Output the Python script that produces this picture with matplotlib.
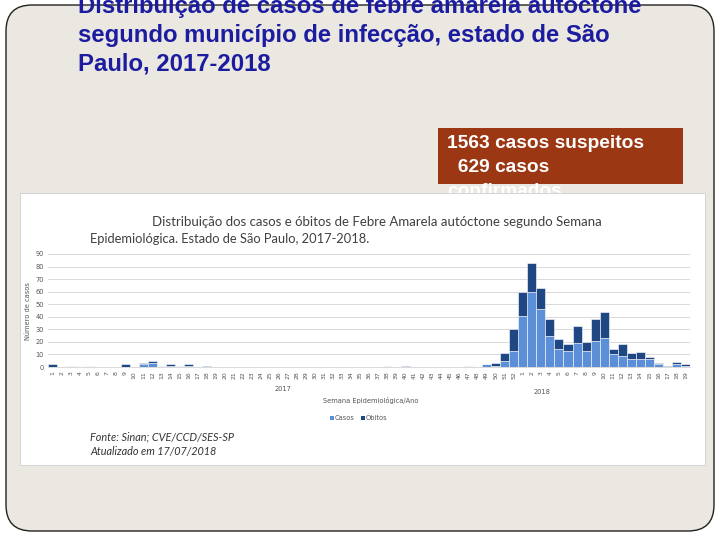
import numpy as np
import matplotlib
matplotlib.use("Agg")
import matplotlib.pyplot as plt
from matplotlib.patches import FancyBboxPatch, Rectangle

# semanas epidemiologicas 2017 (1-52) e 2018 (1-19)
semanas_2017 = list(range(1, 53))
semanas_2018 = list(range(1, 20))

casos_2017 = [0, 0, 1, 0, 1, 0, 0, 0, 0, 0, 2, 3, 1, 1, 1, 1, 0, 0, 0, 0,
              0, 0, 0, 0, 0, 0, 0, 0, 0, 0, 0, 0, 0, 0, 0, 0, 0, 1, 0, 0,
              0, 0, 0, 0, 0, 0, 1, 0, 2, 1, 5, 13]
obitos_2017 = [2, 0, 0, 0, 0, 0, 0, 0, 2, 0, 1, 2, 0, 1, 0, 1, 0, 1, 0, 0,
               0, 0, 0, 0, 0, 0, 0, 0, 0, 0, 0, 0, 0, 0, 0, 0, 0, 0, 0, 1,
               0, 0, 0, 0, 0, 0, 0, 0, 0, 2, 6, 17]
casos_2018 = [41, 60, 46, 25, 14, 13, 19, 13, 21, 23, 10, 9, 6, 6, 6, 2, 0, 2, 1]
obitos_2018 = [19, 23, 17, 13, 8, 5, 14, 7, 17, 21, 4, 9, 5, 6, 2, 1, 1, 2, 1]

rotulos = [str(s) for s in semanas_2017 + semanas_2018]
casos = np.array(casos_2017 + casos_2018)
obitos = np.array(obitos_2017 + obitos_2018)
y_ticks = list(range(0, 100, 10))

titulo_slide = ["Distribuição de casos de febre amarela autóctone",
                "segundo município de infecção, estado de São",
                "Paulo, 2017-2018"]
caixa_texto = ["1563 casos suspeitos", "  629 casos", "confirmados"]

W, H = 720, 540
fig = plt.figure(figsize=(7.2, 5.4), dpi=100)
fig.patch.set_facecolor("white")


def rect(x0, y0, x1, y1):
    # caixa em pixels (origem no topo) -> fracao da figura
    return [x0 / W, 1 - y1 / H, (x1 - x0) / W, (y1 - y0) / H]


# ---- fundo do slide ----
bg = fig.add_axes([0, 0, 1, 1])
bg.set_xlim(0, W)
bg.set_ylim(H, 0)
bg.axis("off")
bg.add_patch(FancyBboxPatch((6, 5), 708, 526, boxstyle="round,pad=0,rounding_size=26",
                            facecolor="#ebe7e1", edgecolor="#222222", linewidth=1.0))

# titulo do slide (primeira linha cortada no topo)
for i, linha in enumerate(titulo_slide):
    bg.text(78, 4 + 29 * i, linha, fontsize=17.2, fontweight="bold", color="#1c1ca0",
            family="Liberation Sans", va="center_baseline", ha="left", zorder=5)

bg.add_patch(Rectangle((438, 128), 245, 56, facecolor="#9c3713", edgecolor="none", zorder=2))
for i, linha in enumerate(caixa_texto):
    bg.text(447, 144 + 24 * i, linha, fontsize=13.8, fontweight="bold", color="white",
            family="Liberation Sans", va="center", ha="left", zorder=3)

# imagem do grafico (branca) por cima
bg.add_patch(Rectangle((20, 193), 685, 272, facecolor="white", edgecolor="#cfcfcf",
                       linewidth=0.6, zorder=4))

bg.text(152, 222, "Distribuição dos casos e óbitos de Febre Amarela autóctone segundo Semana",
        fontsize=9.5, color="#404040", family="Lato", va="center", ha="left", zorder=5)
bg.text(90, 239, "Epidemiológica. Estado de São Paulo, 2017-2018.",
        fontsize=9.3, color="#404040", family="Lato", va="center", ha="left", zorder=5)

bg.text(28, 311, "Número de casos", fontsize=4.8, color="#555555", rotation=90,
        va="center", ha="center", zorder=5)
bg.text(283, 389, "2017", fontsize=4.8, color="#555555", va="center", ha="center", zorder=5)
bg.text(542, 392, "2018", fontsize=4.8, color="#555555", va="center", ha="center", zorder=5)
bg.text(323, 400, "Semana Epidemiológica/Ano", fontsize=4.8, color="#555555",
        va="center", ha="left", zorder=5)

bg.add_patch(Rectangle((330, 416), 3.5, 3.5, facecolor="#5b8fd8", edgecolor="none", zorder=5))
bg.text(335, 418, "Casos", fontsize=4.8, color="#555555", va="center", ha="left", zorder=5)
bg.add_patch(Rectangle((361, 416), 3.5, 3.5, facecolor="#1e4784", edgecolor="none", zorder=5))
bg.text(366, 418, "Óbitos", fontsize=4.8, color="#555555", va="center", ha="left", zorder=5)

bg.text(90, 437, "Fonte: Sinan; CVE/CCD/SES-SP", fontsize=7.8, style="italic",
        color="#333333", family="Lato", va="center", ha="left", zorder=5)
bg.text(90, 451, "Atualizado em 17/07/2018", fontsize=7.8, style="italic",
        color="#333333", family="Lato", va="center", ha="left", zorder=5)

# ---- grafico de barras empilhadas ----
ax = fig.add_axes(rect(48, 254, 690, 367))
ax.patch.set_alpha(0)
x = np.arange(len(rotulos))
ax.bar(x, casos, width=1.0, color="#5b8fd8", edgecolor="white", linewidth=0.4, label="Casos")
ax.bar(x, obitos, width=1.0, bottom=casos, color="#1e4784", edgecolor="white",
       linewidth=0.4, label="Óbitos")

ax.set_xlim(-0.55, len(rotulos) - 0.5)
ax.set_ylim(0, 90)
ax.set_yticks(y_ticks)
ax.set_yticklabels([str(v) for v in y_ticks], fontsize=4.8, color="#555555")
ax.set_xticks(x)
ax.set_xticklabels(rotulos, rotation=90, fontsize=4.4, color="#555555")
ax.tick_params(length=0, pad=3)
ax.grid(axis="y", color="#d9d9d9", linewidth=0.7)
ax.set_axisbelow(True)
for s in ["top", "right", "left"]:
    ax.spines[s].set_visible(False)
ax.spines["bottom"].set_color("#d9d9d9")
ax.spines["bottom"].set_linewidth(0.7)

fig.savefig("out.png", dpi=100)
